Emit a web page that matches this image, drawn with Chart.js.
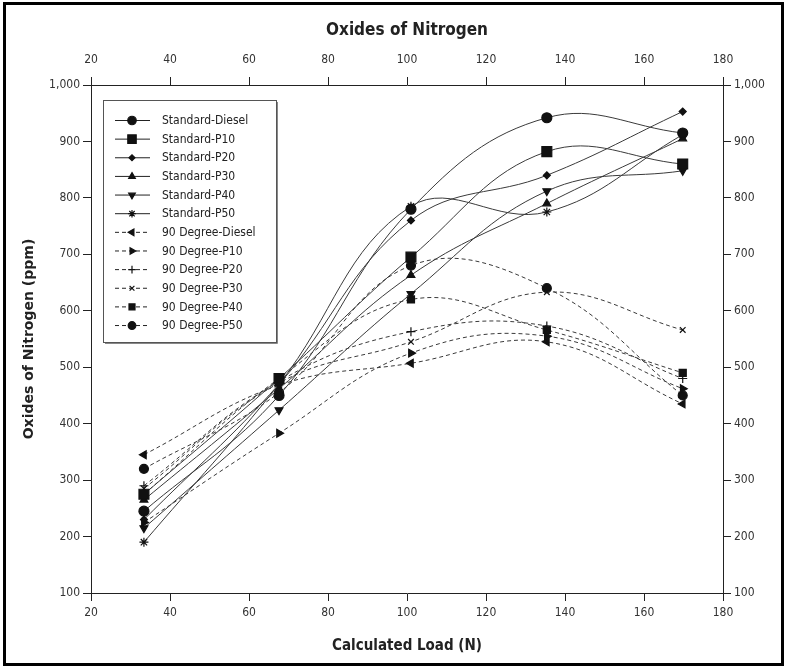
<!DOCTYPE html>
<html lang="en">
  <head>
    <meta charset="UTF-8" />
    <title>Oxides of Nitrogen</title>
    <script src="https://cdn.jsdelivr.net/npm/chart.js"></script>
    <style>
      body { margin: 0; background: #fff; }
      #wrap { position: relative; width: 787px; height: 668px; }
      #frame {
        position: absolute; left: 3px; top: 2px; width: 781px; height: 664px;
        border: 3px solid #000; box-sizing: border-box; pointer-events: none;
      }
    </style>
  </head>

  <body>
    <div id="wrap">
      <canvas id="noxChart" width="787" height="668"></canvas>
      <div id="frame"></div>
    </div>

    <script>
      // calculated load (N)
      const loads = [33.4, 67.6, 101.0, 135.4, 169.8];

      // NOx (ppm), standard piston
      const stdDiesel = [245, 450, 780, 942, 915];
      const stdP10 = [275, 480, 695, 882, 860];
      const stdP20 = [230, 470, 760, 840, 953];
      const stdP30 = [265, 462, 663, 790, 905];
      const stdP40 = [215, 424, 630, 812, 848];
      const stdP50 = [190, 470, 785, 775, 912];

      // NOx (ppm), 90 degree
      const degDiesel = [345, 468, 507, 545, 435];
      const degP10 = [225, 383, 525, 555, 462];
      const degP20 = [290, 475, 563, 573, 480];
      const degP30 = [285, 472, 545, 633, 566];
      const degP40 = [275, 480, 620, 566, 490];
      const degP50 = [320, 455, 680, 640, 450];

      const yTicks = [100, 200, 300, 400, 500, 600, 700, 800, 900, 1000];

      const tickFont = { family: "'DejaVu Sans Condensed', 'DejaVu Sans'", size: 12 };
      const ink = "#111";

      function series(label, values, style, radius, dashed, rotation) {
        return {
          label: label,
          data: values.map((v, i) => ({ x: loads[i], y: v })),
          borderColor: "#3a3a3a",
          borderWidth: 1,
          borderDash: dashed ? [4, 3] : [],
          tension: 0.4,
          fill: false,
          pointStyle: style,
          pointRadius: radius,
          pointRotation: rotation || 0,
          pointBackgroundColor: ink,
          pointBorderColor: ink,
          pointBorderWidth: 1.2,
        };
      }

      const datasets = [
        series("Standard-Diesel", stdDiesel, "circle", 5, false),
        series("Standard-P10", stdP10, "rect", 7, false),
        series("Standard-P20", stdP20, "rectRot", 3.5, false),
        series("Standard-P30", stdP30, "triangle", 4.5, false),
        series("Standard-P40", stdP40, "triangle", 4.5, false, 180),
        series("Standard-P50", stdP50, "star", 4.5, false),
        series("90 Degree-Diesel", degDiesel, "triangle", 4.5, true, -90),
        series("90 Degree-P10", degP10, "triangle", 4.5, true, 90),
        series("90 Degree-P20", degP20, "cross", 4.5, true),
        series("90 Degree-P30", degP30, "crossRot", 4, true),
        series("90 Degree-P40", degP40, "rect", 5, true),
        series("90 Degree-P50", degP50, "circle", 4.5, true),
      ];

      // legend box drawn inside the plot, top-left
      const boxLegend = {
        id: "boxLegend",
        afterDraw(chart) {
          const ctx = chart.ctx;
          const x0 = 103, y0 = 100, w = 173, h = 242;
          ctx.save();
          ctx.fillStyle = "#fff";
          ctx.fillRect(x0, y0, w, h);
          ctx.strokeStyle = "#555";
          ctx.lineWidth = 1;
          ctx.strokeRect(x0 + 0.5, y0 + 0.5, w, h);
          ctx.strokeStyle = "#888";
          ctx.beginPath();
          ctx.moveTo(x0 + w + 1.5, y0 + 2);
          ctx.lineTo(x0 + w + 1.5, y0 + h + 1.5);
          ctx.lineTo(x0 + 2, y0 + h + 1.5);
          ctx.stroke();

          ctx.font = "12px 'DejaVu Sans Condensed', 'DejaVu Sans'";
          ctx.textBaseline = "middle";
          chart.data.datasets.forEach((ds, i) => {
            const y = 120 + i * 18.64;
            ctx.strokeStyle = "#222";
            ctx.lineWidth = 1;
            ctx.setLineDash(ds.borderDash);
            ctx.beginPath();
            ctx.moveTo(115, y + 0.5);
            ctx.lineTo(150, y + 0.5);
            ctx.stroke();
            ctx.setLineDash([]);
            ctx.fillStyle = ink;
            ctx.strokeStyle = ink;
            ctx.lineWidth = 1.2;
            Chart.helpers.drawPoint(ctx, {
              pointStyle: ds.pointStyle,
              radius: ds.pointRadius * 0.85,
              rotation: ds.pointRotation,
              borderWidth: 1.2,
            }, 132, y + 0.5);
            ctx.fillStyle = "#222";
            ctx.fillText(ds.label, 162, y + 1);
          });
          ctx.restore();
        },
      };

      function xAxis(position, fixedHeight, title) {
        return {
          type: "linear",
          position: position,
          min: 20,
          max: 180,
          ticks: {
            stepSize: 20,
            color: "#333",
            font: tickFont,
            padding: position === "top" ? 10 : 5,
          },
          grid: { drawOnChartArea: false, drawTicks: true, tickLength: 8, color: "#222" },
          border: { display: true, color: "#222", width: 1 },
          title: title,
          afterFit(scale) { scale.height = fixedHeight; },
        };
      }

      function yAxis(position, fixedWidth, title) {
        return {
          type: "linear",
          position: position,
          min: 100,
          max: 1000,
          afterBuildTicks(scale) { scale.ticks = yTicks.map((v) => ({ value: v })); },
          ticks: { color: "#333", font: tickFont, padding: 3 },
          grid: { drawOnChartArea: false, drawTicks: true, tickLength: 8, color: "#222" },
          border: { display: true, color: "#222", width: 1 },
          title: title,
          afterFit(scale) { scale.width = fixedWidth; },
        };
      }

      new Chart(document.getElementById("noxChart").getContext("2d"), {
        type: "line",
        data: { datasets: datasets },
        options: {
          responsive: false,
          animation: false,
          layout: { padding: 0 },
          plugins: { legend: { display: false }, tooltip: { enabled: false } },
          scales: {
            x: xAxis("bottom", 75, {
              display: true,
              text: "Calculated Load (N)",
              color: "#222",
              font: { family: "'DejaVu Sans Condensed', 'DejaVu Sans'", size: 15, weight: "bold" },
              padding: { top: 0, bottom: 13 },
            }),
            x2: xAxis("top", 85, {
              display: true,
              text: "Oxides of Nitrogen",
              color: "#222",
              font: { family: "'DejaVu Sans Condensed', 'DejaVu Sans'", size: 17, weight: "bold" },
              padding: { top: 20, bottom: 0 },
            }),
            y: yAxis("left", 91, {
              display: true,
              text: "Oxides of Nitrogen (ppm)",
              color: "#222",
              font: { family: "'DejaVu Sans'", size: 14, weight: "bold" },
              padding: { top: 21, bottom: 0 },
            }),
            y2: yAxis("right", 64, { display: false }),
          },
        },
        plugins: [boxLegend],
      });
    </script>
  </body>
</html>
